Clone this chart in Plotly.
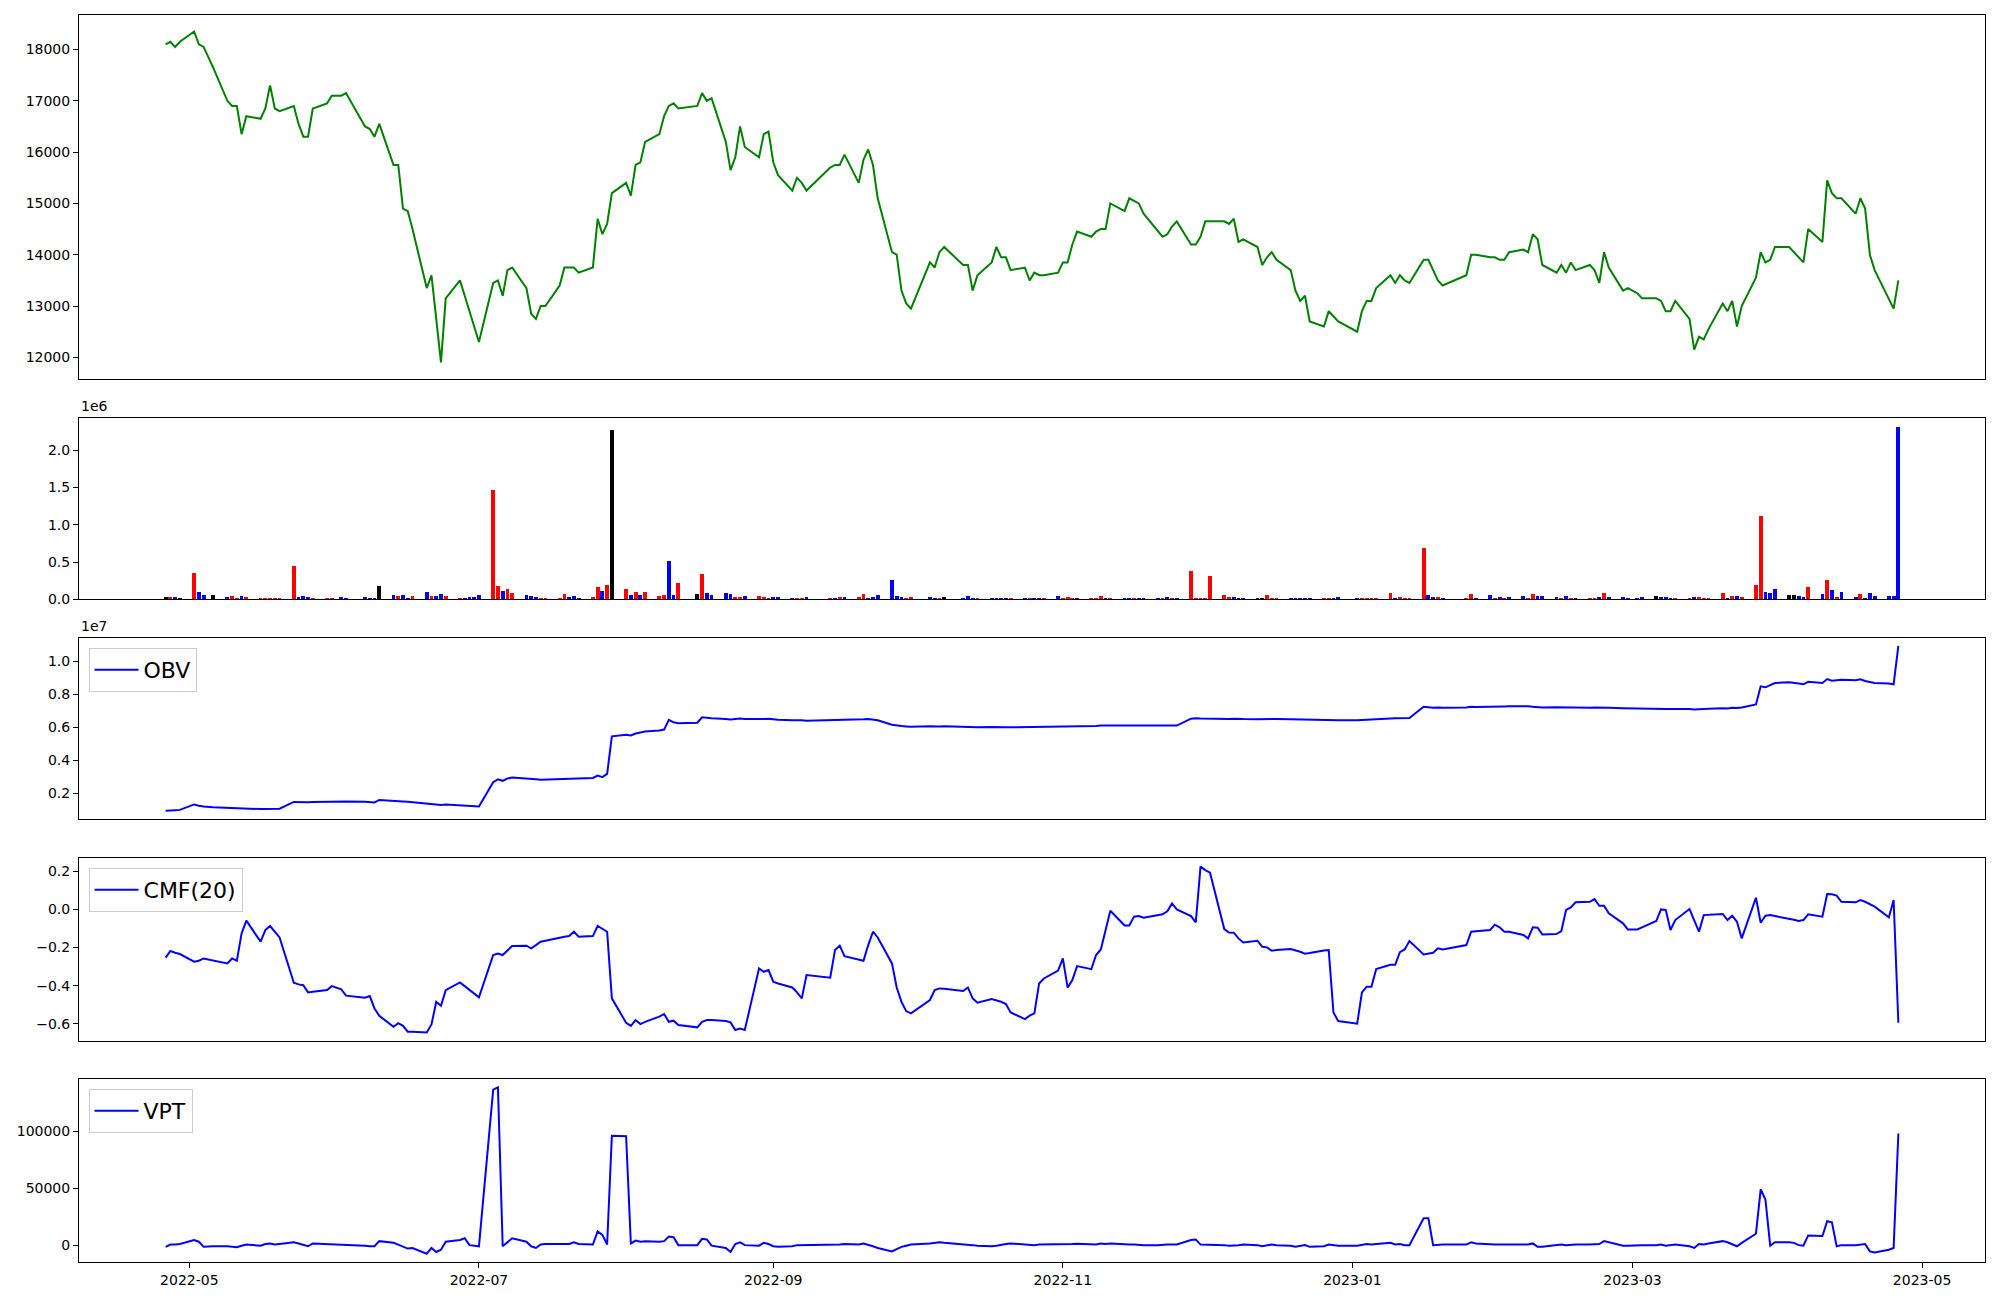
import pandas as pd
import plotly.graph_objects as go

# ---------------- data ----------------
holidays = ["2022-05-05", "2022-06-01", "2022-06-06", "2022-08-15", "2022-09-09",
            "2022-09-12", "2022-10-03", "2022-10-10", "2022-12-30", "2023-01-23",
            "2023-01-24", "2023-03-01"]
dates = [d for d in pd.bdate_range("2022-04-26", "2023-04-26")
         if d.strftime("%Y-%m-%d") not in holidays]

close = [
    18100, 18150, 18050, 18150, 18350, 18100, 18050, 17650, 17000, 16900,
    16900, 16350, 16700, 16650, 16850, 17300, 16850, 16800, 16900, 16550,
    16300, 16300, 16850, 16950, 17100, 17100, 17150, 16500, 16450, 16300,
    16550, 15750, 15750, 14900, 14850, 14500, 13350, 13600, 12750, 11900,
    13150, 13500, 13200, 12900, 12600, 12300, 13450, 13500, 13200, 13700,
    13750, 13350, 12850, 12750, 13000, 13000, 13400, 13750, 13750, 13750,
    13650, 13750, 14700, 14400, 14600, 15200, 15400, 15150, 15750, 15800,
    16200, 16350, 16700, 16900, 16950, 16850, 16900, 17150, 17000, 17050,
    16200, 15650, 15900, 16500, 16100, 15900, 16350, 16400, 15800, 15550,
    15250, 15500, 15400, 15250, 15700, 15750, 15750, 15950, 15400, 15850,
    16050, 15750, 15100, 14050, 14000, 13300, 13050, 12950, 13850, 13750,
    14050, 14150, 13800, 13800, 13300, 13600, 13850, 14150, 13950, 13950,
    13700, 13750, 13500, 13650, 13600, 13600, 13650, 13850, 13850, 14200,
    14450, 14350, 14450, 14500, 14500, 15000, 14850, 15100, 15050, 15000,
    14800, 14450, 14350, 14400, 14550, 14650, 14200, 14200, 14350, 14650,
    14650, 14650, 14600, 14700, 14250, 14300, 14150, 13800, 13950, 14050,
    13900, 13700, 13300, 13100, 13200, 12700, 12600, 12900, 12800, 12700,
    12500, 12900, 13100, 13100, 13350, 13600, 13450, 13600, 13500, 13450,
    13900, 13900, 13700, 13500, 13400, 13600, 14000, 14000, 13950, 13950,
    13900, 13900, 14050, 14100, 14050, 14400, 14300, 13800, 13650, 13800,
    13650, 13850, 13700, 13800, 13700, 13450, 14050, 13750, 13300, 13350,
    13250, 13150, 13150, 13100, 12900, 12900, 13100, 12750, 12150, 12400,
    12350, 12550, 13050, 12900, 13100, 12600, 13000, 13550, 14050, 13850,
    13900, 14150, 14150, 14050, 13950, 13850, 14500, 14250, 15450, 15200,
    15100, 15100, 14800, 15100, 14900, 14000, 13700, 13150, 12950, 13500,
]

# volume in units of 1e6
volume_m = [
    0.03, 0.03, 0.03, 0.02, 0.35, 0.10, 0.05, 0.05, 0.03, 0.04,
    0.02, 0.04, 0.03, 0.005, 0.02, 0.02, 0.02, 0.02, 0.44, 0.03,
    0.04, 0.03, 0.02, 0.02, 0.02, 0.03, 0.02, 0.03, 0.02, 0.02,
    0.18, 0.06, 0.04, 0.06, 0.02, 0.04, 0.10, 0.04, 0.04, 0.07,
    0.04, 0.02, 0.02, 0.03, 0.03, 0.06, 1.46, 0.18, 0.11, 0.14,
    0.08, 0.06, 0.04, 0.03, 0.02, 0.02, 0.02, 0.07, 0.03, 0.04,
    0.02, 0.03, 0.16, 0.11, 0.19, 2.26, 0.14, 0.06, 0.10, 0.06,
    0.10, 0.04, 0.06, 0.51, 0.06, 0.22, 0.07, 0.33, 0.08, 0.06,
    0.08, 0.07, 0.03, 0.03, 0.04, 0.04, 0.03, 0.02, 0.03, 0.03,
    0.02, 0.02, 0.02, 0.03, 0.02, 0.02, 0.03, 0.03, 0.03, 0.07,
    0.02, 0.03, 0.06, 0.26, 0.04, 0.03, 0.02, 0.03, 0.03, 0.02,
    0.02, 0.03, 0.02, 0.04, 0.02, 0.02, 0.02, 0.02, 0.005, 0.02,
    0.005, 0.005, 0.005, 0.02, 0.005, 0.02, 0.04, 0.02, 0.03, 0.005,
    0.02, 0.02, 0.02, 0.04, 0.02, 0.02, 0.02, 0.005, 0.005, 0.02,
    0.02, 0.005, 0.02, 0.03, 0.005, 0.02, 0.38, 0.02, 0.005, 0.005,
    0.31, 0.06, 0.03, 0.03, 0.02, 0.005, 0.02, 0.02, 0.06, 0.005,
    0.02, 0.02, 0.02, 0.005, 0.005, 0.02, 0.02, 0.005, 0.005, 0.03,
    0.02, 0.02, 0.02, 0.02, 0.02, 0.08, 0.02, 0.03, 0.005, 0.02,
    0.68, 0.06, 0.03, 0.03, 0.02, 0.02, 0.07, 0.02, 0.06, 0.02,
    0.03, 0.02, 0.03, 0.04, 0.02, 0.07, 0.04, 0.04, 0.03, 0.02,
    0.04, 0.02, 0.02, 0.02, 0.02, 0.03, 0.08, 0.03, 0.03, 0.02,
    0.02, 0.03, 0.04, 0.03, 0.03, 0.02, 0.02, 0.02, 0.03, 0.03,
    0.02, 0.02, 0.08, 0.02, 0.04, 0.04, 0.03, 0.19, 1.11, 0.10,
    0.08, 0.14, 0.06, 0.06, 0.04, 0.03, 0.16, 0.07, 0.26, 0.12,
    0.03, 0.10, 0.03, 0.07, 0.02, 0.08, 0.04, 0.04, 0.04, 2.31,
]

# bar category: r / b / k
volume_kind = list(
    "krbkrbbkbr" "rbrrrrrrrb" "bbrrrbbbbb" "kbrbbrbrbb" "rrbbbbrrbr"
    "rbbbrrrrbb" "brrbrkrbrb" "rrrbbrkrbb" "bbrrbrrrbb" "brrbrbrbrr"
    "bbbbbbrrbb" "rkbbbrbbbb" "rbrbbrbrrr" "brrrbrbbrb" "bbrbrbrrrr"
    "rrrbkbbkrr" "rbbbbbrrbb" "brrrrrbrrr" "rbbrbrrbbr" "brbbrrbbbr"
    "brbrrbrbbb" "bbkbbbrrbr" "rrrbrbrrrb" "bbkkbbrbrb" "rbbrbbbbbb"
)

# OBV in units of 1e6
obv_m = [
    0.95, 0.95, 0.98, 1.00, 1.33, 1.25, 1.20, 1.16, 1.13, 1.11,
    1.09, 1.06, 1.07, 1.05, 1.06, 1.05, 1.05, 1.07, 1.48, 1.46,
    1.44, 1.46, 1.47, 1.49, 1.50, 1.52, 1.51, 1.49, 1.47, 1.45,
    1.60, 1.57, 1.55, 1.51, 1.49, 1.46, 1.38, 1.36, 1.32, 1.30,
    1.33, 1.28, 1.26, 1.25, 1.23, 1.20, 2.68, 2.85, 2.76, 2.90,
    2.96, 2.92, 2.88, 2.85, 2.83, 2.84, 2.85, 2.87, 2.88, 2.89,
    2.90, 2.93, 3.08, 2.98, 3.18, 5.45, 5.55, 5.50, 5.62, 5.68,
    5.74, 5.80, 5.86, 6.45, 6.30, 6.25, 6.28, 6.60, 6.56, 6.55,
    6.50, 6.47, 6.50, 6.53, 6.50, 6.47, 6.50, 6.52, 6.48, 6.45,
    6.42, 6.44, 6.42, 6.40, 6.42, 6.43, 6.44, 6.46, 6.44, 6.48,
    6.50, 6.47, 6.42, 6.15, 6.10, 6.07, 6.05, 6.03, 6.06, 6.04,
    6.05, 6.06, 6.03, 6.01, 5.98, 6.00, 6.01, 6.02, 6.00, 6.00,
    6.00, 6.01, 6.00, 6.00, 6.01, 6.01, 6.03, 6.04, 6.05, 6.05,
    6.06, 6.07, 6.08, 6.10, 6.10, 6.12, 6.13, 6.13, 6.13, 6.12,
    6.11, 6.10, 6.10, 6.09, 6.10, 6.10, 6.52, 6.55, 6.53, 6.52,
    6.54, 6.52, 6.50, 6.52, 6.50, 6.50, 6.49, 6.50, 6.52, 6.51,
    6.50, 6.49, 6.48, 6.47, 6.46, 6.45, 6.44, 6.45, 6.44, 6.43,
    6.42, 6.43, 6.44, 6.46, 6.50, 6.53, 6.55, 6.56, 6.55, 6.56,
    7.24, 7.20, 7.18, 7.20, 7.18, 7.20, 7.24, 7.22, 7.22, 7.25,
    7.24, 7.26, 7.27, 7.30, 7.27, 7.24, 7.22, 7.20, 7.21, 7.20,
    7.21, 7.20, 7.20, 7.18, 7.20, 7.18, 7.20, 7.18, 7.15, 7.14,
    7.13, 7.12, 7.12, 7.11, 7.10, 7.10, 7.11, 7.10, 7.08, 7.10,
    7.10, 7.12, 7.15, 7.14, 7.18, 7.16, 7.20, 7.38, 8.48, 8.42,
    8.55, 8.68, 8.72, 8.70, 8.65, 8.60, 8.75, 8.68, 8.92, 8.82,
    8.85, 8.87, 8.85, 8.90, 8.80, 8.72, 8.68, 8.65, 8.60, 10.92,
]

cmf20 = [
    -0.253, -0.218, -0.227, -0.234, -0.274, -0.269, -0.257, -0.266, -0.283, -0.257,
    -0.269, -0.126, -0.059, -0.169, -0.108, -0.087, -0.117, -0.147, -0.384, -0.393,
    -0.397, -0.435, -0.431, -0.423, -0.402, -0.419, -0.452, -0.463, -0.454, -0.519,
    -0.557, -0.615, -0.596, -0.610, -0.641, -0.641, -0.645, -0.603, -0.484, -0.505,
    -0.423, -0.383, -0.402, -0.423, -0.440, -0.461, -0.239, -0.231, -0.239, -0.213,
    -0.192, -0.190, -0.204, -0.187, -0.169, -0.164, -0.147, -0.143, -0.140, -0.117,
    -0.143, -0.140, -0.087, -0.100, -0.117, -0.466, -0.594, -0.610, -0.580, -0.601,
    -0.589, -0.562, -0.548, -0.589, -0.583, -0.606, -0.618, -0.589, -0.580, -0.580,
    -0.585, -0.592, -0.632, -0.624, -0.632, -0.309, -0.327, -0.318, -0.379, -0.388,
    -0.409, -0.435, -0.466, -0.344, -0.358, -0.213, -0.190, -0.245, -0.262, -0.269,
    -0.187, -0.117, -0.147, -0.283, -0.409, -0.484, -0.533, -0.545, -0.475, -0.423,
    -0.414, -0.416, -0.428, -0.409, -0.466, -0.489, -0.470, -0.475, -0.484, -0.496,
    -0.540, -0.575, -0.557, -0.545, -0.388, -0.362, -0.321, -0.257, -0.410, -0.370,
    -0.297, -0.313, -0.239, -0.210, -0.108, -0.007, -0.084, -0.084, -0.038, -0.035,
    -0.044, -0.030, -0.026, -0.010, 0.031, 0.000, -0.035, -0.068, 0.224, 0.206,
    0.192, -0.103, -0.121, -0.122, -0.152, -0.173, -0.164, -0.196, -0.199, -0.217,
    -0.213, -0.208, -0.213, -0.222, -0.232, -0.229, -0.215, -0.213, -0.540, -0.585,
    -0.599, -0.435, -0.405, -0.405, -0.313, -0.290, -0.290, -0.224, -0.210, -0.166,
    -0.236, -0.231, -0.227, -0.204, -0.210, -0.187, -0.117, -0.115, -0.108, -0.080,
    -0.094, -0.117, -0.117, -0.134, -0.152, -0.094, -0.096, -0.131, -0.129, -0.114,
    -0.003, 0.010, 0.037, 0.040, 0.054, 0.019, 0.019, -0.021, -0.073, -0.105,
    -0.105, -0.094, -0.061, 0.000, -0.003, -0.108, -0.056, 0.002, -0.056, -0.117,
    -0.030, -0.028, -0.024, -0.056, -0.033, -0.065, -0.152, 0.061, -0.070, -0.033,
    -0.030, -0.035, -0.047, -0.054, -0.061, -0.056, -0.026, -0.038, 0.080, 0.079,
    0.072, 0.040, 0.037, 0.049, 0.040, 0.028, 0.014, -0.042, 0.049, -0.594,
]

vpt = [
    -1500, 500, 500, 1000, 4500, 3000, -1500, -1000, -1000, -1500,
    -1800, -500, 500, -500, 1000, 1500, 500, 1000, 2500, 1500,
    0, -1000, 1500, 1000, 1000, 800, 500, -500, -1000, -1000,
    3500, 2000, 500, -1500, -3000, -2500, -7500, -2500, -6000, -4000,
    3000, 4500, 6000, 0, -500, -1000, 136500, 138500, -1000, 2500,
    6000, 3000, -1000, -2500, 500, 1000, 1000, 1500, 1000, 2500,
    1000, 500, 12000, 9000, 500, 96000, 95500, 1500, 4000, 3000,
    3500, 3000, 3500, 7500, 7000, 0, 0, 5500, 5000, -500,
    -2500, -6000, 1000, 2500, 0, -500, 2000, 1000, -1000, -1500,
    -1000, 0, 0, 0, 500, 500, 500, 1000, 500, 1500,
    500, -1000, -2500, -5500, -3500, -1500, -500, 500, 1500, 2000,
    2500, 2000, 1000, 500, 0, -500, -1000, -500, 500, 1000,
    1500, 500, 500, 0, 500, 500, 500, 500, 800, 1000,
    1200, 1000, 500, 1500, 1000, 1500, 500, 500, 500, 0,
    0, 0, 500, 500, 500, 500, 4500, 5000, 500, 500,
    500, 0, -500, -500, 0, 500, 0, -1000, -500, 500,
    0, -500, -1500, -1000, 0, -1500, -1000, 500, 0, -500,
    -500, 500, 1000, 500, 1000, 2000, 500, 1000, 0, 0,
    23500, 23500, 0, 500, 500, 500, 2500, 1500, 500, 500,
    500, 500, 1000, 1000, 500, 1500, -1500, -1500, 0, 500,
    0, 500, 500, 500, 500, 1000, 3500, 2500, -500, -500,
    0, 0, 0, 500, -500, 0, 500, -1000, -2500, 1000,
    500, 1500, 3500, 2500, 1000, -1000, 2000, 10000, 49000, 40000,
    -500, 2500, 2500, 2000, 0, -500, 8500, 8000, 21000, 20000,
    -1000, 0, 0, 500, 1000, -5500, -6500, -4000, -2500, 98000,
]

assert len(dates) == len(close) == len(volume_m) == len(volume_kind) == len(obv_m) == len(cmf20) == len(vpt)

# ---------------- figure ----------------
kind_color = {"r": "red", "b": "blue", "k": "black"}
obv_1e7 = [v / 10 for v in obv_m]


def pad_range(vals, lo_pad=True):
    lo, hi = min(vals), max(vals)
    m = 0.05 * (hi - lo)
    return [lo - m if lo_pad else 0, hi + m]


span = dates[-1] - dates[0]
x_range = [dates[0] - 0.05 * span, dates[-1] + 0.05 * span]

FONT = "DejaVu Sans"
fig = go.Figure()

fig.add_trace(go.Scatter(x=dates, y=close, mode="lines", line=dict(color="green", width=2),
                         showlegend=False, xaxis="x", yaxis="y"))
fig.add_trace(go.Bar(x=dates, y=volume_m, marker=dict(color=[kind_color[k] for k in volume_kind], line=dict(width=0)),
                     width=0.8 * 86400000, showlegend=False, xaxis="x2", yaxis="y2"))
fig.add_trace(go.Scatter(x=dates, y=obv_1e7, mode="lines", name="OBV", line=dict(color="blue", width=2),
                         xaxis="x3", yaxis="y3", legend="legend"))
fig.add_trace(go.Scatter(x=dates, y=cmf20, mode="lines", name="CMF(20)", line=dict(color="blue", width=2),
                         xaxis="x4", yaxis="y4", legend="legend2"))
fig.add_trace(go.Scatter(x=dates, y=vpt, mode="lines", name="VPT", line=dict(color="blue", width=2),
                         xaxis="x5", yaxis="y5", legend="legend3"))

domains = [[0.7081, 1.0], [0.5313, 0.6765], [0.3553, 0.5006], [0.1774, 0.3237], [0.0, 0.1468]]
y_cfg = [
    dict(range=pad_range(close), dtick=1000, tickformat="d"),
    dict(range=pad_range(volume_m, lo_pad=False), dtick=0.5, tickformat=".1f"),
    dict(range=pad_range(obv_1e7), dtick=0.2, tickformat=".1f"),
    dict(range=pad_range(cmf20), dtick=0.2, tickformat=".1f"),
    dict(range=pad_range(vpt), dtick=50000, tickformat="d"),
]

axis_common = dict(showline=True, linecolor="black", linewidth=1, mirror=True, showgrid=False,
                   zeroline=False, ticklen=5, tickwidth=1, tickcolor="black",
                   tickfont=dict(family=FONT, size=14, color="black"), automargin=False)

# the page body adds an 8px offset; size the figure so the plot lands where the reference has it
layout = dict(
    width=1992, height=1292,
    margin=dict(l=71, r=15, t=7, b=38),
    paper_bgcolor="white", plot_bgcolor="white",
    font=dict(family=FONT, size=14, color="black"),
    bargap=0,
)
for i in range(5):
    sfx = "" if i == 0 else str(i + 1)
    layout["xaxis" + sfx] = dict(axis_common, domain=[0, 1], anchor="y" + sfx, range=x_range, type="date",
                                 tick0="2022-05-01", dtick="M2", tickformat="%Y-%m",
                                 ticks="outside" if i == 4 else "",
                                 showticklabels=(i == 4), **({} if i == 0 else {"matches": "x"}))
    layout["yaxis" + sfx] = dict(axis_common, domain=domains[i], anchor="x" + sfx, ticks="outside", **y_cfg[i])

leg_common = dict(xanchor="left", yanchor="top", bgcolor="rgba(255,255,255,0.8)", bordercolor="#cccccc",
                  borderwidth=1, font=dict(family=FONT, size=22, color="black"), itemwidth=44,
                  xref="paper", yref="paper")
layout["legend"] = dict(leg_common, x=0.005, y=0.4924)
layout["legend2"] = dict(leg_common, x=0.005, y=0.3159)
layout["legend3"] = dict(leg_common, x=0.005, y=0.1387)

layout["annotations"] = [
    dict(text="1e6", xref="paper", yref="paper", x=0, y=0.6765, xanchor="left", yanchor="bottom",
         showarrow=False, yshift=2, font=dict(family=FONT, size=14, color="black")),
    dict(text="1e7", xref="paper", yref="paper", x=0, y=0.5006, xanchor="left", yanchor="bottom",
         showarrow=False, yshift=2, font=dict(family=FONT, size=14, color="black")),
]

fig.update_layout(**layout)
fig.write_html("out.html")
